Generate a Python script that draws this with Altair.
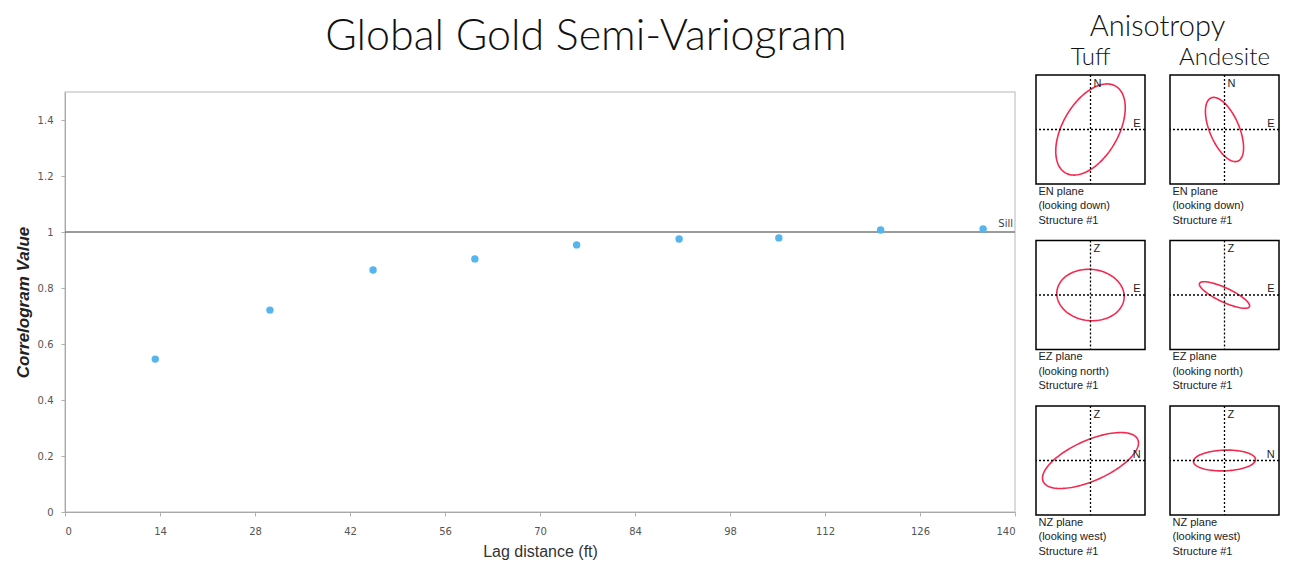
import altair as alt
import numpy as np
import pandas as pd

# ---------------- main semi-variogram data ----------------
LAG = [13.3, 30.2, 45.4, 60.4, 75.4, 90.5, 105.2, 120.2, 135.3]
CORR = [0.546, 0.721, 0.864, 0.904, 0.954, 0.975, 0.979, 1.007, 1.011]
SILL = [1.0]
X_TICKS = [0, 14, 28, 42, 56, 70, 84, 98, 112, 126, 140]
Y_TICKS = [0, 0.2, 0.4, 0.6, 0.8, 1.0, 1.2, 1.4]

# ---------------- anisotropy panels ----------------
ROCKS = ["Tuff", "Andesite"]
PLANES = ["EN", "EZ", "NZ"]
PLANE_TEXT = [
    ["EN plane", "(looking down)", "Structure #1"],
    ["EZ plane", "(looking north)", "Structure #1"],
    ["NZ plane", "(looking west)", "Structure #1"],
]
TOP_LETTER = ["N", "Z", "Z"]
RIGHT_LETTER = ["E", "E", "N"]
# ellipse parameters per plane (rows) and rock (columns), in panel units (-1..1)
ELL_MAJOR = [[0.92, 0.63], [0.62, 0.505], [0.95, 0.57]]
ELL_MINOR = [[0.51, 0.27], [0.47, 0.13], [0.37, 0.19]]
ELL_ANGLE = [[60, 113], [-6, -25], [24, 2]]

RED = "#f5284e"
TITLE_FONT = "Lato"
TITLE_WEIGHT = 300
BODY_FONT = "Liberation Sans"

main_df = pd.DataFrame({"lag": LAG, "corr": CORR})
sill_df = pd.DataFrame({"v": SILL, "label": ["Sill"]})
one_df = pd.DataFrame({"k": [0]})

xscale = alt.Scale(domain=[0, 140], nice=False, zero=False)
yscale = alt.Scale(domain=[0, 1.5], nice=False, zero=False)

points = alt.Chart(main_df).mark_circle(size=55, color="#55b5ee", opacity=1).encode(
    x=alt.X("lag:Q", scale=xscale,
            axis=alt.Axis(values=X_TICKS, title="Lag distance (ft)", grid=False,
                          labelFontSize=10, labelColor="#555555", labelFont="DejaVu Sans",
                          tickSize=4, tickColor="#b0b0b0", domainColor="#a8a8a8",
                          labelPadding=10, titleFontSize=16, titleFont=BODY_FONT,
                          titleFontWeight="normal", titleColor="#333333", titlePadding=7)),
    y=alt.Y("corr:Q", scale=yscale,
            axis=alt.Axis(values=Y_TICKS, format="~g", title="Correlogram Value", grid=False,
                          labelFontSize=10, labelColor="#555555", labelFont="DejaVu Sans",
                          tickSize=4, tickColor="#b0b0b0", domainColor="#a8a8a8",
                          labelPadding=8, titleFontSize=17, titleFont=BODY_FONT,
                          titleFontWeight="bold", titleFontStyle="italic",
                          titleColor="#222222", titlePadding=5)),
)
sill = alt.Chart(sill_df).mark_rule(color="#7a7a7a", strokeWidth=1.5).encode(
    y=alt.Y("v:Q", scale=yscale))
sill_text = alt.Chart(sill_df).mark_text(align="right", baseline="bottom", dx=-2, dy=-3,
                                         fontSize=10, font="DejaVu Sans", color="#444444").encode(
    x=alt.datum(140), y=alt.Y("v:Q", scale=yscale), text="label:N")

main_plot = alt.layer(sill, points, sill_text).properties(
    width=950, height=420,
    view=alt.ViewBackground(stroke="#cfcfcf", strokeWidth=1.5),
)

# empty band above the plot so that the plot starts lower than the anisotropy panels
spacer = alt.Chart(one_df).mark_text().encode(text=alt.value(" ")).properties(
    width=950, height=15, view=alt.ViewBackground(stroke="transparent"))

main = alt.vconcat(spacer, main_plot, spacing=0,
                   title=alt.TitleParams("Global Gold Semi-Variogram", fontSize=43, font=TITLE_FONT,
                                         fontWeight=TITLE_WEIGHT, color="#111111",
                                         anchor="middle", dx=71, offset=16))


def panel(pi, ri, header=None):
    a = ELL_MAJOR[pi][ri]
    b = ELL_MINOR[pi][ri]
    th = np.deg2rad(ELL_ANGLE[pi][ri])
    t = np.linspace(0, 2 * np.pi, 121)
    ex = a * np.cos(t) * np.cos(th) - b * np.sin(t) * np.sin(th)
    ey = a * np.cos(t) * np.sin(th) + b * np.sin(t) * np.cos(th)
    edf = pd.DataFrame({"x": ex, "y": ey, "i": np.arange(len(t))})
    top_df = pd.DataFrame({"x": [0.0], "y": [0.95], "t": [TOP_LETTER[pi]]})
    right_df = pd.DataFrame({"x": [0.85], "y": [0.0], "t": [RIGHT_LETTER[pi]]})

    ps = alt.Scale(domain=[-1, 1], nice=False, zero=False)
    ax = alt.Axis(title=PLANE_TEXT[pi], domain=False, ticks=False, labels=False, grid=False,
                  titleAnchor="start", titleAlign="left", titleBaseline="top", titleX=2,
                  titleFontSize=11, titleFontWeight="normal", titleFont=BODY_FONT,
                  titleColor="#222222", titlePadding=1, titleLineHeight=14.5)

    ell = alt.Chart(edf).mark_line(color=RED, strokeWidth=1.6).encode(
        x=alt.X("x:Q", scale=ps, axis=ax), y=alt.Y("y:Q", scale=ps, axis=None), order="i:Q")
    vline = alt.Chart(one_df).mark_rule(color="black", strokeDash=[2, 2], strokeWidth=1.3).encode(
        x=alt.XDatum(0, scale=ps, axis=ax))
    hline = alt.Chart(one_df).mark_rule(color="black", strokeDash=[2, 2], strokeWidth=1.3).encode(
        y=alt.YDatum(0, scale=ps, axis=None))
    ttext = alt.Chart(top_df).mark_text(align="left", baseline="top", dx=3, fontSize=11,
                                        font=BODY_FONT, color="#222222").encode(
        x=alt.X("x:Q", scale=ps, axis=ax), y=alt.Y("y:Q", scale=ps, axis=None), text="t:N")
    rtext = alt.Chart(right_df).mark_text(align="center", baseline="bottom", dy=-1, fontSize=11,
                                          font=BODY_FONT, color="#222222").encode(
        x=alt.X("x:Q", scale=ps, axis=ax), y=alt.Y("y:Q", scale=ps, axis=None), text="t:N")

    props = dict(width=109, height=109, view=alt.ViewBackground(stroke="black", strokeWidth=1.5))
    if header is not None:
        props["title"] = alt.TitleParams(header, fontSize=24, font=TITLE_FONT, fontWeight=TITLE_WEIGHT,
                                         color="#111111", anchor="middle", offset=4)
    return alt.layer(ell, vline, hline, ttext, rtext).properties(**props)


rows = []
for pi in range(len(PLANES)):
    rows.append(alt.hconcat(*[panel(pi, ri, ROCKS[ri] if pi == 0 else None)
                              for ri in range(len(ROCKS))], spacing=21))
right = alt.vconcat(*rows, spacing=12.5,
                    title=alt.TitleParams("Anisotropy", fontSize=29, font=TITLE_FONT,
                                          fontWeight=TITLE_WEIGHT, color="#111111",
                                          anchor="middle", offset=4))

chart = alt.hconcat(main, right, spacing=17).properties(
    padding={"top": 4, "left": 5, "right": 0, "bottom": 0}
).configure(
    font=BODY_FONT, background="white"
)

chart.save("out.html", embed_options={"renderer": "svg", "actions": False})
